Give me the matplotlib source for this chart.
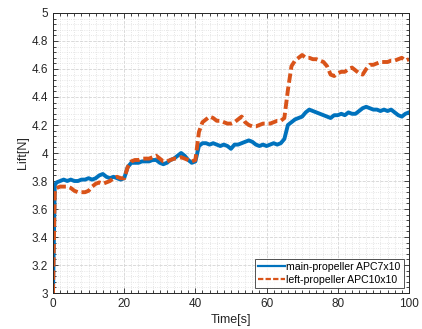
"""
螺旋桨升力对比曲线（主螺旋桨 APC7x10 vs 左螺旋桨 APC10x10）
"""
import matplotlib
matplotlib.use('Agg')
import matplotlib.pyplot as plt
from matplotlib.ticker import MultipleLocator, FuncFormatter

# 时间轴（秒）
time_s = [0, 0.5] + list(range(1, 101))

# 主螺旋桨升力（N）
main_lift = [
    3.00, 3.77,
    3.79, 3.80, 3.81, 3.80, 3.81, 3.80, 3.80, 3.81, 3.81, 3.82,
    3.81, 3.82, 3.84, 3.85, 3.83, 3.82, 3.83, 3.82, 3.81, 3.82,
    3.90, 3.93, 3.93, 3.93, 3.94, 3.94, 3.94, 3.95, 3.95, 3.93,
    3.92, 3.93, 3.95, 3.96, 3.98, 4.00, 3.98, 3.95, 3.93, 3.94,
    4.05, 4.07, 4.07, 4.06, 4.07, 4.06, 4.05, 4.06, 4.05, 4.03,
    4.06, 4.06, 4.07, 4.08, 4.09, 4.08, 4.06, 4.05, 4.06, 4.05,
    4.06, 4.07, 4.06, 4.07, 4.10, 4.20, 4.22, 4.24, 4.25, 4.26,
    4.29, 4.31, 4.30, 4.29, 4.28, 4.27, 4.26, 4.25, 4.27, 4.27,
    4.28, 4.27, 4.29, 4.28, 4.28, 4.30, 4.32, 4.33, 4.32, 4.31,
    4.31, 4.30, 4.31, 4.30, 4.31, 4.29, 4.27, 4.26, 4.28, 4.29,
]

# 左螺旋桨升力（N）
left_lift = [
    3.00, 3.73,
    3.75, 3.76, 3.76, 3.76, 3.75, 3.73, 3.72, 3.72, 3.72, 3.73,
    3.76, 3.78, 3.79, 3.78, 3.79, 3.80, 3.82, 3.83, 3.82, 3.82,
    3.90, 3.94, 3.95, 3.95, 3.96, 3.96, 3.96, 3.97, 3.98, 3.96,
    3.94, 3.94, 3.95, 3.96, 3.96, 3.97, 3.96, 3.95, 3.94, 3.95,
    4.15, 4.22, 4.24, 4.26, 4.25, 4.23, 4.23, 4.22, 4.21, 4.21,
    4.22, 4.24, 4.26, 4.22, 4.20, 4.19, 4.19, 4.20, 4.21, 4.21,
    4.21, 4.22, 4.23, 4.23, 4.25, 4.45, 4.62, 4.66, 4.68, 4.70,
    4.68, 4.68, 4.67, 4.67, 4.66, 4.65, 4.62, 4.56, 4.55, 4.57,
    4.58, 4.58, 4.60, 4.61, 4.59, 4.57, 4.56, 4.60, 4.63, 4.63,
    4.64, 4.65, 4.65, 4.65, 4.66, 4.66, 4.67, 4.68, 4.66, 4.67,
]

labels = ['main-propeller APC7x10', 'left-propeller APC10x10']

plt.rcParams['font.family'] = ['Liberation Sans', 'DejaVu Sans']
fig = plt.figure(figsize=(4.22, 3.29), dpi=100)
ax = fig.add_axes([0.1256, 0.1094, 0.8434, 0.8511])

ax.plot(time_s, main_lift, color='#0072BD', lw=2.8, label=labels[0])
ax.plot(time_s, left_lift, color='#D95319', lw=2.8, ls=(0, (2.4, 1.0)), label=labels[1])

ax.set_xlim(0, 100)
ax.set_ylim(3, 5)
ax.xaxis.set_major_locator(MultipleLocator(20))
ax.xaxis.set_minor_locator(MultipleLocator(2))
ax.yaxis.set_major_locator(MultipleLocator(0.2))
ax.yaxis.set_minor_locator(MultipleLocator(0.04))
ax.yaxis.set_major_formatter(FuncFormatter(lambda v, _: f'{round(v, 2):g}'))

dark = '#262626'
ax.tick_params(which='both', direction='in', top=True, right=True,
               colors=dark, labelsize=8.5, width=0.6)
ax.tick_params(which='major', length=3.5)
ax.tick_params(which='minor', length=2)
for sp in ax.spines.values():
    sp.set_color(dark)
    sp.set_linewidth(0.7)

ax.grid(which='major', color='#d4d4d4', ls='--', lw=0.6)
ax.grid(which='minor', color='#dedede', ls=':', lw=0.6)
ax.set_axisbelow(True)

ax.set_xlabel('Time[s]', fontsize=9, color=dark, labelpad=3)
ax.set_ylabel('Lift[N]', fontsize=9, color=dark, labelpad=2)

leg = ax.legend(loc='lower right', fontsize=7.6, frameon=True, fancybox=False,
                edgecolor=dark, handlelength=2.6, handletextpad=0.1,
                borderpad=0.3, labelspacing=0.25, borderaxespad=0.5)
leg.get_frame().set_linewidth(0.7)
for line in leg.get_lines():
    line.set_linewidth(1.6)

fig.savefig('out.png', dpi=100)
